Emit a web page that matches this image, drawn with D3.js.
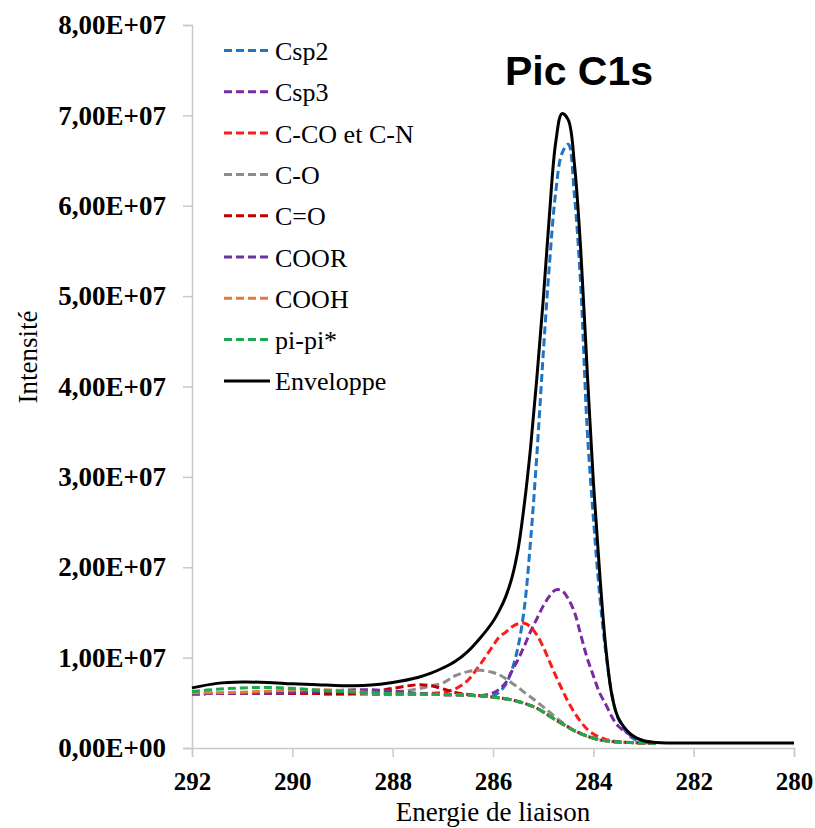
<!DOCTYPE html>
<html>
<head>
<meta charset="utf-8">
<script src="https://cdn.jsdelivr.net/npm/d3@7"></script>
<style>
  body { margin: 0; background: #fff; }
  .tick-label { font-family: "Liberation Serif", serif; font-weight: bold; font-size: 25px; fill: #000; }
  .y-label { font-size: 27px; }
  .legend-text { font-family: "Liberation Serif", serif; font-size: 26px; fill: #000; }
  .axis-title { font-family: "Liberation Serif", serif; font-size: 27px; fill: #000; }
  .chart-title { font-family: "Liberation Sans", Arial, sans-serif; font-weight: bold; font-size: 41px; fill: #000; }
</style>
</head>
<body>
<svg id="chart" width="815" height="828"></svg>
<script>
// binding energy grid (eV), shared by every series
const energy = [292, 291.5, 291, 290.5, 290, 289.5, 289, 288.5, 288, 287.5, 287.25, 287, 286.75, 286.5, 286.25,
  286, 285.875, 285.75, 285.625, 285.5, 285.375, 285.25, 285.125, 285, 284.875, 284.75, 284.625, 284.5, 284.375,
  284.25, 284.125, 284, 283.875, 283.75, 283.625, 283.5, 283.25, 283, 282.75, 282, 281, 280];

// intensities, in units of 1E+07 (null = not plotted)
const csp2 = [0.60, 0.603, 0.605, 0.605, 0.604, 0.602, 0.60, 0.599, 0.597, 0.595, 0.593, 0.59, 0.588, 0.584, 0.577,
  0.575, 0.62, 0.70, 0.86, 1.12, 1.55, 2.30, 3.25, 4.35, 5.35, 6.15, 6.58, 6.68, 6.10,
  5.10, 3.55, 2.55, 1.70, 1.05, 0.58, 0.32, 0.12, 0.065, 0.052, null, null, null];
const csp3 = [0.60, 0.603, 0.605, 0.605, 0.604, 0.602, 0.60, 0.599, 0.597, 0.595, 0.593, 0.59, 0.588, 0.584, 0.58,
  0.61, 0.65, 0.72, 0.85, 0.98, 1.13, 1.29, 1.43, 1.57, 1.68, 1.75, 1.74, 1.65, 1.50,
  1.25, 1.00, 0.80, 0.61, 0.48, 0.34, 0.24, 0.14, 0.08, 0.055, null, null, null];
const cco = [0.60, 0.603, 0.605, 0.605, 0.604, 0.602, 0.60, 0.60, 0.60, 0.60, 0.605, 0.615, 0.655, 0.75, 0.93,
  1.13, 1.23, 1.28, 1.34, 1.375, 1.38, 1.34, 1.25, 1.12, 0.96, 0.80, 0.65, 0.51, 0.39,
  0.29, 0.21, 0.155, 0.12, 0.095, 0.08, 0.07, 0.062, 0.056, 0.052, null, null, null];
const co = [0.60, 0.603, 0.605, 0.605, 0.604, 0.602, 0.60, 0.602, 0.615, 0.655, 0.685, 0.72, 0.80, 0.845, 0.86,
  0.835, 0.81, 0.77, 0.72, 0.67, 0.615, 0.565, 0.51, 0.455, 0.40, 0.34, 0.285, 0.235, 0.19,
  0.16, 0.13, 0.11, 0.09, 0.08, 0.072, 0.066, 0.06, 0.055, 0.052, null, null, null];
const cdo = [0.60, 0.603, 0.605, 0.605, 0.604, 0.602, 0.60, 0.615, 0.66, 0.70, 0.69, 0.655, 0.615, 0.592, 0.578,
  0.564, 0.555, 0.545, 0.532, 0.515, 0.495, 0.47, 0.44, 0.40, 0.355, 0.31, 0.27, 0.23, 0.19,
  0.16, 0.13, 0.11, 0.09, 0.08, 0.072, 0.066, 0.06, 0.055, 0.052, null, null, null];
const coor = [0.60, 0.603, 0.605, 0.607, 0.612, 0.625, 0.64, 0.645, 0.63, 0.605, 0.595, 0.59, 0.588, 0.584, 0.577,
  0.564, 0.555, 0.545, 0.532, 0.515, 0.495, 0.47, 0.44, 0.40, 0.355, 0.31, 0.27, 0.23, 0.19,
  0.16, 0.13, 0.11, 0.09, 0.08, 0.072, 0.066, 0.06, 0.055, 0.052, null, null, null];
const cooh = [0.61, 0.612, 0.618, 0.628, 0.64, 0.645, 0.635, 0.615, 0.60, 0.595, 0.593, 0.59, 0.588, 0.584, 0.577,
  0.564, 0.555, 0.545, 0.532, 0.515, 0.495, 0.47, 0.44, 0.40, 0.355, 0.31, 0.27, 0.23, 0.19,
  0.16, 0.13, 0.11, 0.09, 0.08, 0.072, 0.066, 0.06, 0.055, 0.052, null, null, null];
const pipi = [0.625, 0.65, 0.665, 0.67, 0.66, 0.64, 0.625, 0.61, 0.60, 0.597, 0.595, 0.592, 0.59, 0.586, 0.578,
  0.565, 0.555, 0.545, 0.532, 0.515, 0.495, 0.47, 0.44, 0.40, 0.355, 0.31, 0.27, 0.23, 0.19,
  0.16, 0.13, 0.11, 0.09, 0.08, 0.072, 0.066, 0.06, 0.055, 0.052, null, null, null];
const envelope = [0.665, 0.715, 0.73, 0.725, 0.71, 0.70, 0.69, 0.695, 0.725, 0.78, 0.825, 0.885, 0.96, 1.07, 1.22,
  1.40, 1.52, 1.67, 1.88, 2.20, 2.70, 3.33, 4.10, 4.95, 5.90, 6.70, 7.02, 6.95, 6.45,
  5.50, 4.20, 2.95, 1.95, 1.10, 0.57, 0.33, 0.15, 0.08, 0.062, 0.055, 0.055, 0.055];

const seriesNames = ["Csp2", "Csp3", "C-CO et C-N", "C-O", "C=O", "COOR", "COOH", "pi-pi*", "Enveloppe"];
const seriesValues = [csp2, csp3, cco, co, cdo, coor, cooh, pipi, envelope];
const seriesColors = ["#1f74c4", "#7a2aa3", "#ff1a1a", "#8c8c8c", "#c00000", "#7030a0", "#e07b39", "#1aab4f", "#000000"];

const xTicks = [292, 290, 288, 286, 284, 282, 280];
const yTicks = [0, 1e7, 2e7, 3e7, 4e7, 5e7, 6e7, 7e7, 8e7];
const unit = 1e7;

const margin = {top: 25, right: 21, bottom: 80, left: 192};
const W = 815, H = 828;
const width = W - margin.left - margin.right;
const height = H - margin.top - margin.bottom;

const svg = d3.select("#chart");
const g = svg.append("g").attr("transform", `translate(${margin.left},${margin.top})`);

const x = d3.scaleLinear().domain([292, 280]).range([0, width]);
const y = d3.scaleLinear().domain([0, 8e7]).range([height, 0]);

// "8,00E+07" style labels
function sci(v) {
  if (v === 0) return "0,00E+00";
  const e = Math.floor(Math.log10(v) + 1e-9);
  const m = v / Math.pow(10, e);
  return m.toFixed(2).replace(".", ",") + "E+" + String(e).padStart(2, "0");
}

const yAxis = g.append("g")
  .call(d3.axisLeft(y).tickValues(yTicks).tickSize(9).tickPadding(17).tickFormat(sci));
const xAxis = g.append("g")
  .attr("transform", `translate(0,${height})`)
  .call(d3.axisBottom(x).tickValues(xTicks).tickSize(9).tickPadding(10).tickFormat(d3.format("d")));

[yAxis, xAxis].forEach(ax => {
  ax.attr("font-size", null).attr("font-family", null);
  ax.select(".domain").attr("stroke", "#c9c9c9").attr("stroke-width", 1.5);
  ax.selectAll(".tick line").attr("stroke", "#c9c9c9").attr("stroke-width", 1.5);
  ax.selectAll(".tick text").attr("class", "tick-label");
});
yAxis.selectAll(".tick text").classed("y-label", true);
xAxis.selectAll(".tick text").attr("dy", "0.9em");

// curves
const line = d3.line()
  .defined(d => d[1] !== null)
  .x(d => x(d[0]))
  .y(d => y(d[1] * unit))
  .curve(d3.curveCatmullRom.alpha(0.5));

seriesValues.forEach((vals, i) => {
  const pts = energy.map((e, j) => [e, vals[j]]);
  const isEnv = seriesNames[i] === "Enveloppe";
  g.append("path")
    .datum(pts)
    .attr("fill", "none")
    .attr("stroke", seriesColors[i])
    .attr("stroke-width", 3)
    .attr("stroke-dasharray", isEnv ? null : "8,4")
    .attr("d", line);
});

// legend
const legend = svg.append("g");
seriesNames.forEach((name, i) => {
  const ly = 50.5 + i * 41.3;
  legend.append("line")
    .attr("x1", 224).attr("x2", 270)
    .attr("y1", ly).attr("y2", ly)
    .attr("stroke", seriesColors[i])
    .attr("stroke-width", 3)
    .attr("stroke-dasharray", name === "Enveloppe" ? null : "8,4");
  legend.append("text")
    .attr("class", "legend-text")
    .attr("x", 275).attr("y", ly + 9.5)
    .text(name);
});

// titles
svg.append("text").attr("class", "chart-title")
  .attr("x", 579).attr("y", 85).attr("text-anchor", "middle")
  .text("Pic C1s");
svg.append("text").attr("class", "axis-title")
  .attr("transform", "translate(37,357) rotate(-90)")
  .attr("text-anchor", "middle")
  .text("Intensité");
svg.append("text").attr("class", "axis-title")
  .attr("x", margin.left + width / 2).attr("y", 821)
  .attr("text-anchor", "middle")
  .text("Energie de liaison");
</script>
</body>
</html>
